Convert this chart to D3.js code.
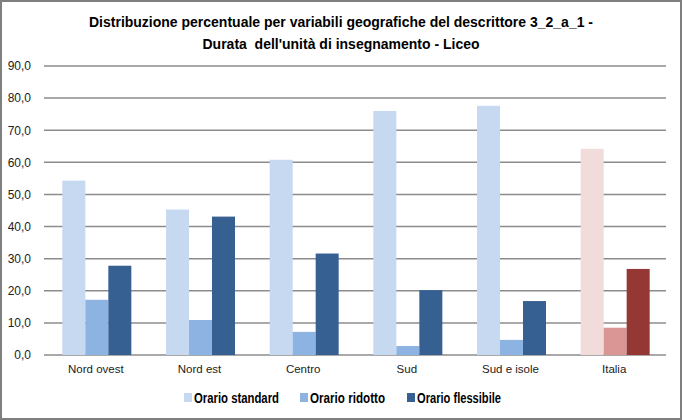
<!DOCTYPE html>
<html><head><meta charset="utf-8">
<script src="https://cdn.jsdelivr.net/npm/d3@7"></script>
<style>
body{margin:0;background:#fff;}
svg{display:block;}
text.title{white-space:pre;}
</style></head>
<body>
<svg id="c" width="682" height="420"></svg>
<script>
const categories = ["Nord ovest","Nord est","Centro","Sud","Sud e isole","Italia"];
const seriesNames = ["Orario standard","Orario ridotto","Orario flessibile"];
const standard  = [54.3, 45.3, 60.8, 76.0, 77.6, 64.2];
const ridotto   = [17.2, 10.9, 7.2, 2.8, 4.7, 8.5];
const flessibile= [27.8, 43.1, 31.6, 20.2, 16.8, 26.8];
const yTicks = [0,10,20,30,40,50,60,70,80,90];
const title = ["Distribuzione percentuale per variabili geografiche del descrittore 3_2_a_1 -",
               "Durata  dell'unità di insegnamento - Liceo"];

const blueCols = ["#c6d9f0","#8db3e2","#376092"];
const redCols  = ["#f2dcdb","#d99694","#953735"];
const series = [standard, ridotto, flessibile];

const svg = d3.select("#c");
const W = 682, H = 420;
const m = {l:44, r:16, t:66, b:65};

svg.append("rect").attr("x",1).attr("y",1).attr("width",W-2).attr("height",H-2)
  .attr("fill","#fff").attr("stroke","#7f7f7f").attr("stroke-width",2);

const narrow = "'Liberation Sans Narrow','Arial Narrow','Helvetica Neue',Arial,sans-serif";
const reg = "'Helvetica Neue',Helvetica,'Liberation Sans',Arial,sans-serif";

svg.selectAll("text.title").data(title).join("text")
  .attr("class","title")
  .attr("x",341).attr("y",(d,i)=>27+i*22)
  .attr("text-anchor","middle")
  .attr("font-family",narrow).attr("font-weight","bold").attr("font-size",15.5)
  .attr("fill","#000")
  .attr("textLength",(d,i)=>i===0?504:277).attr("lengthAdjust","spacingAndGlyphs")
  .text(d=>d);

const x = d3.scaleBand().domain(categories).range([m.l, W-m.r]).paddingInner(0).paddingOuter(0);
const y = d3.scaleLinear().domain([0,90]).range([355,66]);

svg.append("g").selectAll("line.grid").data(yTicks).join("line")
  .attr("x1",m.l).attr("x2",W-m.r)
  .attr("y1",d=>y(d)).attr("y2",d=>y(d))
  .attr("stroke","#8c8c8c").attr("stroke-width",1.5);

const yAxis = d3.axisLeft(y).tickValues(yTicks).tickSize(0).tickPadding(0)
  .tickFormat(d=>d3.format(".1f")(d).replace(".",","));
const ya = svg.append("g").attr("transform",`translate(31,0)`).call(yAxis);
ya.select(".domain").remove();
ya.selectAll("text").attr("font-family",reg).attr("font-size",12).attr("fill","#222");

const inner = d3.scaleBand().domain([0,1,2]).range([0,69]).padding(0);
const groups = svg.append("g").selectAll("g").data(categories).join("g")
  .attr("transform",d=>`translate(${x(d)+(x.bandwidth()-69)/2+1},0)`);
groups.selectAll("rect").data((c,ci)=>series.map((s,si)=>({v:s[ci],si,ci})))
  .join("rect")
  .attr("x",d=>inner(d.si)).attr("width",inner.bandwidth())
  .attr("y",d=>y(d.v)).attr("height",d=>y(0)-y(d.v))
  .attr("fill",d=>categories[d.ci]==="Italia"?redCols[d.si]:blueCols[d.si]);

const xAxis = d3.axisBottom(x).tickSize(0).tickPadding(0);
const xa = svg.append("g").attr("transform",`translate(0,366)`).call(xAxis);
xa.select(".domain").remove();
xa.selectAll("text").attr("font-family",reg).attr("font-size",11.5).attr("fill","#222").attr("dy","0.6em");

const legX = [184, 300, 407];
const leg = svg.append("g").selectAll("g").data(seriesNames).join("g")
  .attr("transform",(d,i)=>`translate(${legX[i]},398)`);
leg.append("rect").attr("x",0).attr("y",-5).attr("width",8).attr("height",9)
  .attr("fill",(d,i)=>blueCols[i]);
leg.append("text").attr("x",10).attr("y",0).attr("dy","0.35em")
  .attr("font-family",narrow).attr("font-weight","bold").attr("font-size",14)
  .attr("textLength",(d,i)=>[85,75,84][i]).attr("lengthAdjust","spacingAndGlyphs")
  .text(d=>d);
</script>
</body></html>
